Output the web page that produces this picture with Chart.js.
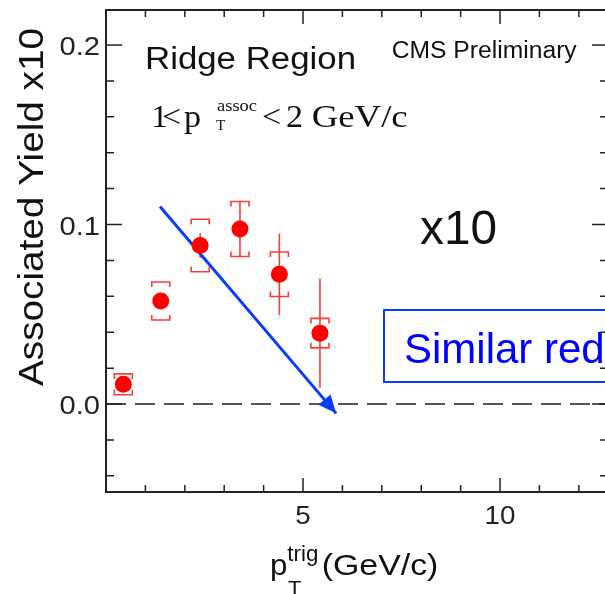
<!DOCTYPE html>
<html lang="en">
<head>
<meta charset="UTF-8">
<title>Ridge Region - Associated Yield</title>
<style>
    * { margin: 0; padding: 0; box-sizing: border-box; }
    html, body { width: 605px; height: 594px; overflow: hidden; background: #fff; }
    .wrap { position: relative; width: 620px; height: 594px; }
</style>
<script src="https://cdn.jsdelivr.net/npm/chart.js"></script>
</head>
<body>
<div class="wrap"><canvas id="yieldChart"></canvas></div>
<script>
    // trigger pT bins and associated yield (x10), with stat and sys errors
    const ptTrig = [0.44, 1.39, 2.39, 3.40, 4.40, 5.43];
    const yieldX10 = [0.011, 0.0574, 0.0883, 0.0975, 0.0723, 0.0395];
    const statErr = [0.003, 0.004, 0.007, 0.0153, 0.0227, 0.0304];
    const sysErr = [0.0058, 0.0106, 0.0146, 0.0153, 0.0124, 0.0082];

    const xTickLabels = [5, 10];
    const yTickLabels = [0.0, 0.1, 0.2];

    // annotation arrow, in axis units
    const arrowFrom = { x: 1.37, y: 0.110 };
    const arrowTo = { x: 5.84, y: -0.0052 };

    const SANS = '"Liberation Sans", Arial, sans-serif';
    const SERIF = '"Liberation Serif", "Times New Roman", serif';
    const AXIS = '#222';
    const RED = '#ff0000';
    const ERR = '#ff3a3a';
    const BLUE = '#0a3cff';

    // draw text squeezed/stretched horizontally; width (if given) wins over sx
    function putText(ctx, str, x, y, size, family, opts) {
        opts = opts || {};
        ctx.save();
        ctx.font = size + 'px ' + family;
        let sx = opts.sx || 1;
        if (opts.width) sx = opts.width / ctx.measureText(str).width;
        ctx.translate(x, y);
        if (opts.rotate) ctx.rotate(opts.rotate);
        ctx.scale(sx, 1);
        ctx.textAlign = opts.align || 'left';
        ctx.textBaseline = 'alphabetic';
        ctx.fillStyle = opts.color || '#111';
        ctx.fillText(str, 0, 0);
        ctx.restore();
    }

    const errorBars = {
        id: 'errorBars',
        beforeDatasetsDraw(chart) {
            const { ctx, chartArea: a, scales: { x, y } } = chart;
            // dashed zero line
            ctx.save();
            ctx.strokeStyle = '#555';
            ctx.lineWidth = 2;
            ctx.setLineDash([20, 9]);
            ctx.beginPath();
            ctx.moveTo(a.left, y.getPixelForValue(0));
            ctx.lineTo(a.right, y.getPixelForValue(0));
            ctx.stroke();
            ctx.restore();

            ctx.save();
            ctx.strokeStyle = ERR;
            ctx.lineWidth = 1.6;
            ptTrig.forEach((pt, i) => {
                const px = x.getPixelForValue(pt);
                const v = yieldX10[i];
                // statistical
                ctx.beginPath();
                ctx.moveTo(px, y.getPixelForValue(v + statErr[i]));
                ctx.lineTo(px, y.getPixelForValue(v - statErr[i]));
                ctx.stroke();
                // systematic brackets
                const top = y.getPixelForValue(v + sysErr[i]);
                const bot = y.getPixelForValue(v - sysErr[i]);
                const hw = 9, tip = 5;
                ctx.beginPath();
                ctx.moveTo(px - hw, top + tip); ctx.lineTo(px - hw, top);
                ctx.lineTo(px + hw, top); ctx.lineTo(px + hw, top + tip);
                ctx.moveTo(px - hw, bot - tip); ctx.lineTo(px - hw, bot);
                ctx.lineTo(px + hw, bot); ctx.lineTo(px + hw, bot - tip);
                ctx.stroke();
            });
            ctx.restore();
        },
        afterDatasetsDraw(chart) {
            const { ctx, scales: { x, y } } = chart;
            // arrow head
            const x0 = x.getPixelForValue(arrowFrom.x), y0 = y.getPixelForValue(arrowFrom.y);
            const x1 = x.getPixelForValue(arrowTo.x), y1 = y.getPixelForValue(arrowTo.y);
            const len = Math.hypot(x1 - x0, y1 - y0);
            const ux = (x1 - x0) / len, uy = (y1 - y0) / len;
            const hl = 18, hw = 8;
            ctx.save();
            ctx.fillStyle = BLUE;
            ctx.beginPath();
            ctx.moveTo(x1, y1);
            ctx.lineTo(x1 - ux * hl - uy * hw, y1 - uy * hl + ux * hw);
            ctx.lineTo(x1 - ux * hl + uy * hw, y1 - uy * hl - ux * hw);
            ctx.closePath();
            ctx.fill();
            ctx.restore();
        }
    };

    const frame = {
        id: 'frame',
        afterDraw(chart) {
            const { ctx, chartArea: a, scales: { x, y } } = chart;
            ctx.save();
            ctx.strokeStyle = AXIS;
            ctx.lineWidth = 2;
            ctx.strokeRect(a.left, a.top, a.right - a.left, a.bottom - a.top);

            ctx.lineWidth = 1.5;
            ctx.beginPath();
            for (let k = -2; k <= 10; k++) {
                const py = y.getPixelForValue(k * 0.02);
                const len = k % 5 === 0 ? 16 : 8;
                ctx.moveTo(a.left, py); ctx.lineTo(a.left + len, py);
                ctx.moveTo(a.right, py); ctx.lineTo(a.right - len, py);
            }
            for (let k = 1; k <= 12; k++) {
                const px = x.getPixelForValue(k);
                const len = k % 5 === 0 ? 14 : 7;
                ctx.moveTo(px, a.bottom); ctx.lineTo(px, a.bottom - len);
                ctx.moveTo(px, a.top); ctx.lineTo(px, a.top + len);
            }
            ctx.stroke();
            ctx.restore();

            // tick labels
            yTickLabels.forEach(v => {
                putText(ctx, v.toFixed(1), a.left - 6, y.getPixelForValue(v) + 10, 26, SANS, { sx: 1.12, align: 'right', color: AXIS });
            });
            xTickLabels.forEach(v => {
                putText(ctx, String(v), x.getPixelForValue(v), 523.5, 25, SANS, { sx: 1.11, align: 'center', color: AXIS });
            });

            // axis titles
            putText(ctx, 'Associated Yield x10', 43, 207, 35, SANS, { width: 358, align: 'center', rotate: -Math.PI / 2 });
            putText(ctx, 'p', 270, 575, 29, SANS, { sx: 1.08 });
            putText(ctx, 'trig', 287.3, 561, 22, SANS, { width: 31 });
            putText(ctx, 'T', 288, 595, 20, SANS, { sx: 1.1 });
            putText(ctx, '(GeV/c)', 321.7, 575, 29, SANS, { width: 116.7 });

            // labels inside the frame
            putText(ctx, 'Ridge Region', 145, 69.3, 31, SANS, { width: 211 });
            putText(ctx, 'CMS Preliminary', 391.7, 58.3, 23, SANS, { width: 185 });

            putText(ctx, '1', 151, 126.7, 31, SERIF, { sx: 1.1 });
            putText(ctx, '<', 162, 126.7, 31, SERIF, { sx: 1.1 });
            putText(ctx, 'p', 184, 126.7, 31, SERIF, { sx: 1.1 });
            putText(ctx, 'assoc', 217, 111, 17, SERIF, { width: 40 });
            putText(ctx, 'T', 216, 130, 14, SERIF, { sx: 1.1 });
            putText(ctx, '<', 262, 126.7, 31, SERIF, { sx: 1.1 });
            putText(ctx, '2', 286, 126.7, 31, SERIF, { sx: 1.1 });
            putText(ctx, 'GeV/c', 311.7, 126.7, 31, SERIF, { width: 96 });

            putText(ctx, 'x10', 420, 244, 48, SANS, { width: 77 });

            // boxed note
            ctx.save();
            ctx.strokeStyle = BLUE;
            ctx.lineWidth = 2;
            ctx.strokeRect(384, 310, 260, 72);
            ctx.restore();
            putText(ctx, 'Similar red', 404, 362.7, 42, SANS, { color: '#0000ff' });
        }
    };

    new Chart(document.getElementById('yieldChart'), {
        type: 'scatter',
        data: {
            datasets: [{
                label: 'Associated yield',
                data: ptTrig.map((pt, i) => ({ x: pt, y: yieldX10[i] })),
                backgroundColor: RED,
                borderColor: RED,
                pointRadius: 8.5,
                pointBorderWidth: 0
            }, {
                type: 'line',
                label: 'trend',
                data: [arrowFrom, arrowTo],
                borderColor: BLUE,
                borderWidth: 3,
                pointRadius: 0,
                fill: false
            }]
        },
        options: {
            responsive: true,
            maintainAspectRatio: false,
            animation: false,
            devicePixelRatio: 1,
            layout: { padding: { left: 106, top: 10, right: 12, bottom: 102 } },
            scales: {
                x: { type: 'linear', min: 0, max: 12.74, display: false },
                y: { type: 'linear', min: -0.049, max: 0.2195, display: false }
            },
            plugins: { legend: { display: false }, tooltip: { enabled: false } }
        },
        plugins: [errorBars, frame]
    });
</script>
</body>
</html>
